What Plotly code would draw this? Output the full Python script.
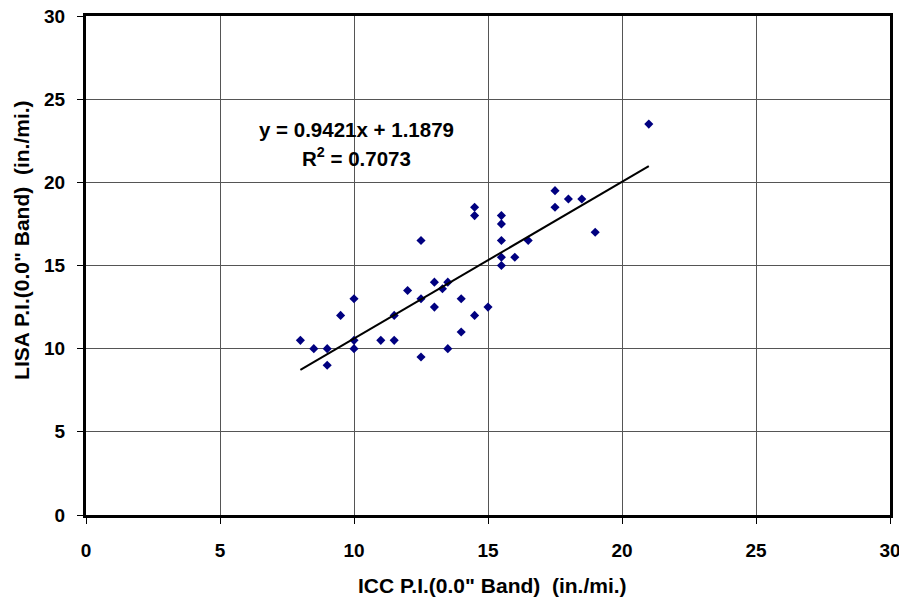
import plotly.graph_objects as go

# ICC vs LISA profile index, 0.0" band
icc = [8, 8.5, 9, 9, 9.5, 10, 10, 10, 11, 11.5, 11.5, 12, 12.5, 12.5, 12.5,
       13, 13, 13.3, 13.5, 13.5, 14, 14, 14.5, 14.5, 14.5, 15, 15.5, 15.5,
       15.5, 15.5, 15.5, 16, 16.5, 17.5, 17.5, 18, 18.5, 19, 21]
lisa = [10.5, 10, 10, 9, 12, 13, 10.5, 10, 10.5, 12, 10.5, 13.5, 16.5, 13, 9.5,
        14, 12.5, 13.6, 14, 10, 13, 11, 18.5, 18, 12, 12.5, 18, 17.5,
        16.5, 15.5, 15, 15.5, 16.5, 19.5, 18.5, 19, 19, 17, 23.5]

slope = 0.9421
intercept = 1.1879
fit_x = [min(icc), max(icc)]
fit_y = [slope * v + intercept for v in fit_x]

ticks = [0, 5, 10, 15, 20, 25, 30]

fnt = "Liberation Sans, Arial, sans-serif"

fig = go.Figure()
fig.add_trace(go.Scatter(x=icc, y=lisa, mode="markers",
                         marker=dict(symbol="diamond", size=7, color="#000080"),
                         showlegend=False))
fig.add_trace(go.Scatter(x=fit_x, y=fit_y, mode="lines",
                         line=dict(color="black", width=2), showlegend=False))

# regression label
fig.add_annotation(x=10.1, y=23.15, xref="x", yref="y", showarrow=False,
                   text="<b>y = 0.9421x + 1.1879</b>",
                   font=dict(family=fnt, size=20.5, color="black"), xanchor="center")
fig.add_annotation(x=10.1, y=21.5, xref="x", yref="y", showarrow=False,
                   text="<b>R<sup>2</sup> = 0.7073</b>",
                   font=dict(family=fnt, size=20.5, color="black"), xanchor="center")

# axis titles
fig.add_annotation(x=0.506, y=-0.142, xref="paper", yref="paper", showarrow=False,
                   text="<b>ICC P.I.(0.0\" Band)&nbsp;&nbsp;(in./mi.)</b>",
                   font=dict(family=fnt, size=21, color="black"),
                   xanchor="center", yanchor="middle")
fig.add_annotation(x=-0.081, y=0.551, xref="paper", yref="paper", showarrow=False,
                   text="<b>LISA P.I.(0.0\" Band)&nbsp;&nbsp;(in./mi.)</b>", textangle=-90,
                   font=dict(family=fnt, size=21, color="black"),
                   xanchor="center", yanchor="middle")

axis_common = dict(range=[0, 30], tickvals=ticks, showgrid=True, gridcolor="#555555",
                   gridwidth=1, zeroline=False, showline=True, linecolor="black",
                   linewidth=3, mirror=True, ticks="outside", ticklen=6,
                   tickcolor="black", automargin=False, ticklabeloverflow="allow",
                   tickfont=dict(family=fnt, size=19, color="black", weight="bold"))

fig.update_xaxes(**axis_common, ticklabelstandoff=10)
fig.update_yaxes(**axis_common, ticklabelstandoff=8)

# page body adds an 8px margin, so the figure is sized to sit inside the window
fig.update_layout(width=899, height=594, plot_bgcolor="white", paper_bgcolor="white",
                  margin=dict(l=78, r=17, t=8, b=87))

fig.write_html("out.html")
